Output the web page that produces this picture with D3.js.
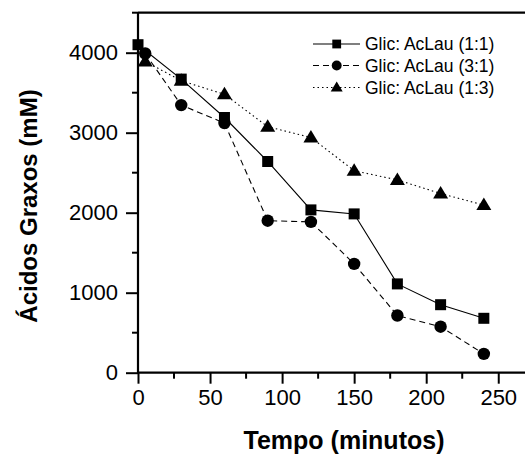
<!DOCTYPE html>
<html>
<head>
<meta charset="utf-8">
<script src="https://cdn.jsdelivr.net/npm/d3@7"></script>
<style>
  body { margin: 0; background: #fff; }
  svg { display: block; font-family: Arial, "Liberation Sans", sans-serif; }
</style>
</head>
<body>
<div id="chart"></div>
<script>
// data
const times = [0, 5, 30, 60, 90, 120, 150, 180, 210, 240];
const seriesNames = ["Glic: AcLau (1:1)", "Glic: AcLau (3:1)", "Glic: AcLau (1:3)"];
const s11 = [4100, null, 3670, 3190, 2640, 2035, 1985, 1110, 850, 680];
const s31 = [null, 3990, 3345, 3120, 1900, 1885, 1360, 715, 575, 235];
const s13 = [null, 3890, 3650, 3480, 3075, 2940, 2525, 2410, 2240, 2095];
const xTicks = [0, 50, 100, 150, 200, 250];
const yTicks = [0, 1000, 2000, 3000, 4000];

const Wd = 525, Ht = 461;
const M = { left: 138, top: 12.7, bottom: 88.3 };

const svg = d3.select("#chart").append("svg")
  .attr("width", Wd).attr("height", Ht);

const x = d3.scaleLinear().domain([0, 270]).range([M.left, M.left + 270 * 1.441]);
const y = d3.scaleLinear().domain([0, 4500]).range([Ht - M.bottom, M.top]);

const styles = [
  { vals: s11, dash: null, sym: "square" },
  { vals: s31, dash: "6,4", sym: "circle" },
  { vals: s13, dash: "1.5,3", sym: "triangle" }
];

function drawSym(g, sym, cx, cy, big) {
  const k = big ? 1 : 0.8;
  if (sym === "square") {
    const s = 11 * k;
    g.append("rect").attr("x", cx - s / 2).attr("y", cy - s / 2)
      .attr("width", s).attr("height", s).attr("fill", "#000");
  } else if (sym === "circle") {
    g.append("circle").attr("cx", cx).attr("cy", cy).attr("r", 6.2 * k).attr("fill", "#000");
  } else {
    const w = 15 * k, h = 12.5 * k;
    g.append("path")
      .attr("d", `M${cx},${cy - h * 0.6}L${cx + w / 2},${cy + h * 0.4}L${cx - w / 2},${cy + h * 0.4}Z`)
      .attr("fill", "#000");
  }
}

// lines
const line = d3.line()
  .defined(d => d.v != null)
  .x(d => x(d.t)).y(d => y(d.v));

styles.forEach(st => {
  const pts = times.map((t, i) => ({ t, v: st.vals[i] })).filter(d => d.v != null);
  svg.append("path")
    .datum(pts)
    .attr("d", line)
    .attr("fill", "none")
    .attr("stroke", "#000")
    .attr("stroke-width", 1.1)
    .attr("stroke-dasharray", st.dash);
});

// markers (triangles first, squares on top)
[2, 1, 0].forEach(i => {
  const st = styles[i];
  const g = svg.append("g");
  times.forEach((t, j) => {
    if (st.vals[j] != null) drawSym(g, st.sym, x(t), y(st.vals[j]), true);
  });
});

// axes
const xMinor = d3.range(25, 270, 50);
const yMinor = d3.range(500, 4501, 1000);

const gx = svg.append("g").attr("transform", `translate(0,${y(0)})`);
gx.call(d3.axisBottom(x).tickValues(xTicks).tickSize(11).tickPadding(6).tickFormat(d3.format("d")));
gx.append("g").selectAll("line").data(xMinor).join("line")
  .attr("x1", d => x(d)).attr("x2", d => x(d)).attr("y1", 0).attr("y2", 6)
  .attr("stroke", "#000").attr("stroke-width", 2);

const gy = svg.append("g").attr("transform", `translate(${x(0)},0)`);
gy.call(d3.axisLeft(y).tickValues(yTicks).tickSize(12).tickPadding(8).tickFormat(d3.format("d")));
gy.append("g").selectAll("line").data(yMinor).join("line")
  .attr("y1", d => y(d)).attr("y2", d => y(d)).attr("x1", 0).attr("x2", -6)
  .attr("stroke", "#000").attr("stroke-width", 2);

[gx, gy].forEach(g => {
  g.select(".domain").remove();
  g.selectAll(".tick line").attr("stroke-width", 2);
  g.selectAll(".tick text").attr("font-size", 22).attr("fill", "#000")
    .attr("font-family", "Arial, 'Liberation Sans', sans-serif");
});
svg.append("line").attr("x1", x(0) - 1).attr("x2", Wd).attr("y1", y(0)).attr("y2", y(0))
  .attr("stroke", "#000").attr("stroke-width", 2.2);
svg.append("line").attr("x1", x(0)).attr("x2", x(0)).attr("y1", y(4500)).attr("y2", y(0))
  .attr("stroke", "#000").attr("stroke-width", 2.2);
// top frame line
svg.append("line").attr("x1", x(0)).attr("x2", Wd).attr("y1", y(4500)).attr("y2", y(4500))
  .attr("stroke", "#000").attr("stroke-width", 2.2);

// axis titles
svg.append("text")
  .attr("x", 344).attr("y", 449)
  .attr("text-anchor", "middle")
  .attr("font-size", 25).attr("font-weight", "bold")
  .text("Tempo (minutos)");

svg.append("text")
  .attr("transform", `translate(37,206) rotate(-90)`)
  .attr("text-anchor", "middle")
  .attr("font-size", 24).attr("font-weight", "bold")
  .text("Ácidos Graxos (mM)");

// legend
const legY = [44, 65.5, 87.5];
styles.forEach((st, i) => {
  const g = svg.append("g");
  g.append("line")
    .attr("x1", 313).attr("x2", 360).attr("y1", legY[i]).attr("y2", legY[i])
    .attr("stroke", "#000").attr("stroke-width", 1.1)
    .attr("stroke-dasharray", st.dash);
  drawSym(g, st.sym, 336.7, legY[i], false);
  g.append("text")
    .attr("x", 365).attr("y", legY[i]).attr("dy", "0.36em")
    .attr("font-size", 17.5)
    .text(seriesNames[i]);
});
</script>
</body>
</html>
